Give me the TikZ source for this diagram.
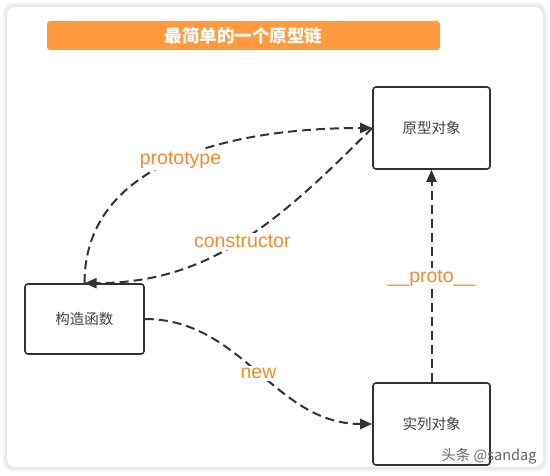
\documentclass[tikz,border=0pt]{standalone}
\usepackage{fontspec}
\setmainfont{Liberation Sans}
\newfontfamily\cjk{Noto Sans CJK SC}
\usetikzlibrary{arrows.meta}
\definecolor{titleorange}{HTML}{FF9A3E}
\definecolor{labelorange}{HTML}{F5892A}
\definecolor{linegray}{HTML}{333333}

\begin{document}
\begin{tikzpicture}[x=1pt,y=1pt,
    objbox/.style={draw=linegray, line width=1.6pt, rounded corners=3pt, fill=white,
      minimum width=117pt, minimum height=82pt, inner sep=0pt,
      text=black!75, font=\cjk\fontsize{14.5}{16}\selectfont},
    link/.style={draw=linegray, line width=2pt, dash pattern=on 9pt off 5pt,
      -{Triangle[length=12pt,width=10pt]}},
    linklabel/.style={fill=white, text=labelorange, inner sep=2pt,
      font=\fontsize{19.5}{21}\selectfont}]
        % canvas 550 x 475, y counted from the bottom
        \useasboundingbox (0,0) rectangle (550,475);
        \fill[white] (0,0) rectangle (550,475);

        % card with a soft shadow
        \fill[black!5, rounded corners=10pt] (3,4) rectangle (547,472);
        \fill[black!9, rounded corners=9pt] (5,6) rectangle (545,470);
        \fill[white, rounded corners=8pt] (7,8) rectangle (543,468);

        % title bar
        \node[fill=titleorange, rounded corners=3pt, minimum width=393pt, minimum height=29pt,
          text=white, font=\cjk\bfseries\fontsize{17.5}{19}\selectfont] (title) at (243.5,439.5) {最简单的一个原型链};

        % the three objects
        \node[objbox] (proto) at (431.5,347) {原型对象};
        \node[objbox, minimum width=119pt, minimum height=70pt] (ctor) at (84.5,156) {构造函数};
        \node[objbox] (inst) at (431.5,51) {实列对象};

        % links between them
        \draw[link] (ctor.north) to[out=90,in=180] node[linklabel, yshift=-2pt] (lblprototype) {prototype} (proto.west);
        \draw[link] (proto.west) to[out=225,in=0] node[linklabel, yshift=-2pt] (lblconstructor) {constructor} (ctor.north);
        \draw[link] (ctor.east) to[out=0,in=180] node[linklabel, yshift=-2pt] (lblnew) {new} (inst.west);
        \draw[link] (inst.north) -- node[linklabel, yshift=-2pt] (lblproto) {\_\_proto\_\_} (proto.south);

        % watermark
        \node[text=black!60, font=\cjk\fontsize{14.5}{16}\selectfont, inner sep=0pt] (mark) at (489,19) {头条 @sandag};
    \end{tikzpicture}
\end{document}
